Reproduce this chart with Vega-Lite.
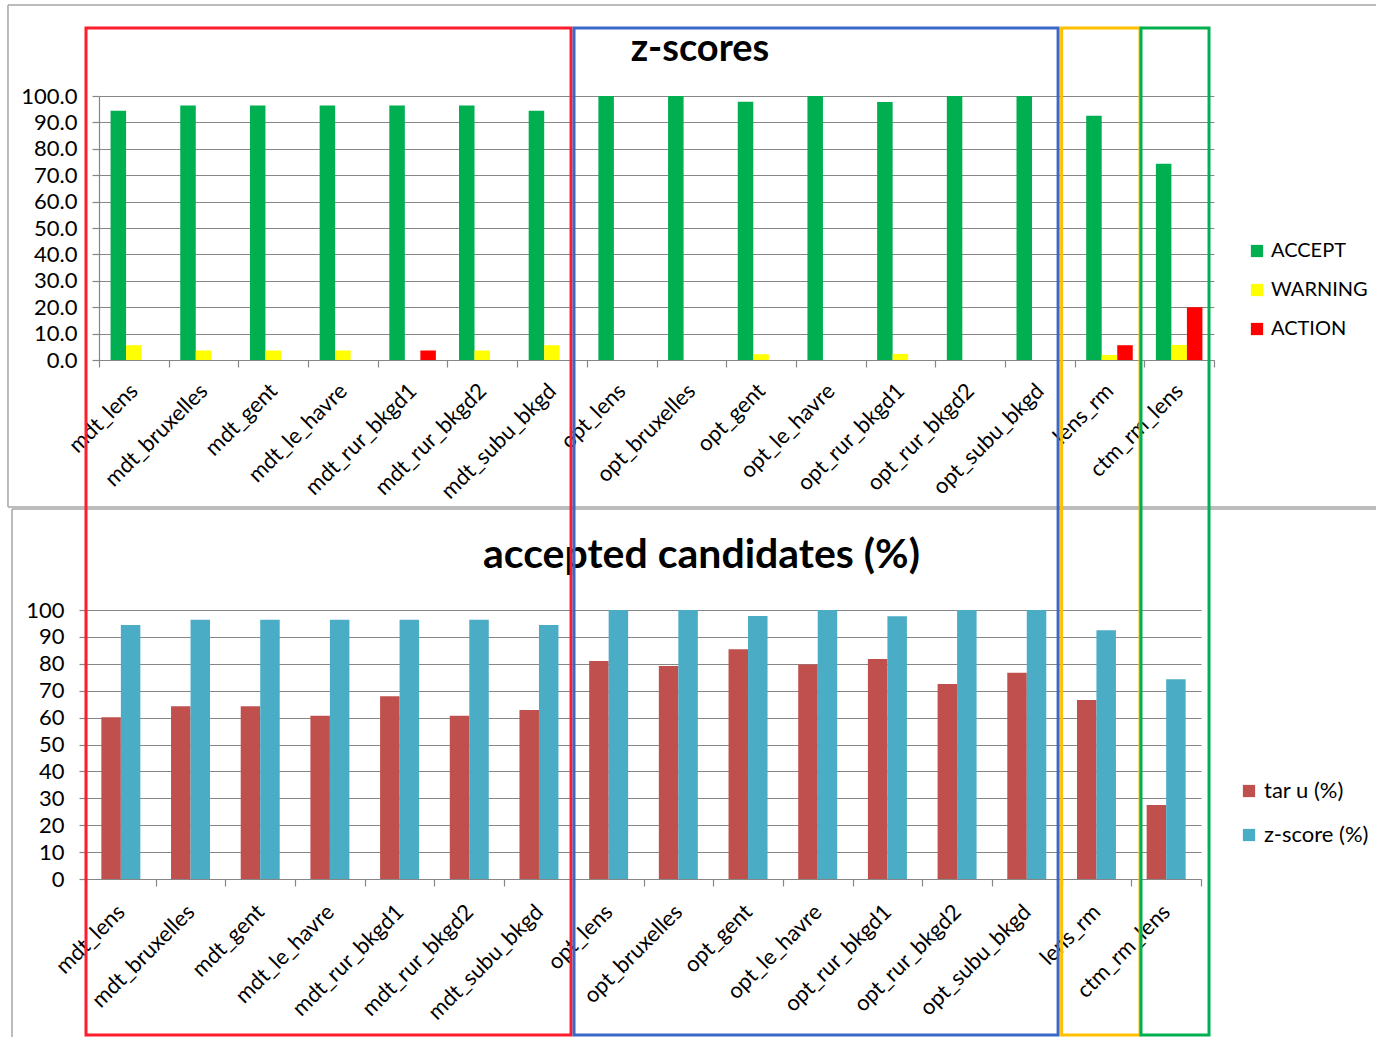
{
  "$schema": "https://vega.github.io/schema/vega-lite/v6.json",
  "background": "white",
  "padding": {"left": 7, "top": 4, "right": 0, "bottom": 0},
  "config": {
    "font": "Lato",
    "view": {"stroke": null},
    "axis": {
      "labelFont": "Lato",
      "labelFontSize": 22,
      "labelColor": "#000000",
      "labelOverlap": false,
      "domainColor": "#868686",
      "domainWidth": 1.2,
      "tickColor": "#868686",
      "tickWidth": 1.2,
      "tickSize": 7,
      "gridColor": "#868686",
      "gridWidth": 1.2,
      "gridOpacity": 1
    },
    "legend": {
      "labelFont": "Lato",
      "labelFontSize": 20,
      "labelColor": "#000000",
      "symbolType": "square",
      "symbolSize": 150,
      "symbolStrokeWidth": 0,
      "labelOffset": 4,
      "padding": 0
    }
  },
  "bounds": "flush",
  "spacing": 250,
  "resolve": {
    "scale": {"x": "independent", "y": "independent", "xOffset": "independent", "color": "independent"},
    "axis": {"x": "independent", "y": "independent"},
    "legend": {"color": "independent"}
  },
  "vconcat": [
    {
      "width": 1128,
      "height": 264,
      "layer": [
        {
          "data": {
            "values": [
              {"site": "mdt_lens", "status": "ACCEPT", "pct": 94.4},
              {"site": "mdt_lens", "status": "WARNING", "pct": 5.6},
              {"site": "mdt_bruxelles", "status": "ACCEPT", "pct": 96.4},
              {"site": "mdt_bruxelles", "status": "WARNING", "pct": 3.6},
              {"site": "mdt_gent", "status": "ACCEPT", "pct": 96.4},
              {"site": "mdt_gent", "status": "WARNING", "pct": 3.6},
              {"site": "mdt_le_havre", "status": "ACCEPT", "pct": 96.4},
              {"site": "mdt_le_havre", "status": "WARNING", "pct": 3.6},
              {"site": "mdt_rur_bkgd1", "status": "ACCEPT", "pct": 96.4},
              {"site": "mdt_rur_bkgd1", "status": "ACTION", "pct": 3.6},
              {"site": "mdt_rur_bkgd2", "status": "ACCEPT", "pct": 96.4},
              {"site": "mdt_rur_bkgd2", "status": "WARNING", "pct": 3.6},
              {"site": "mdt_subu_bkgd", "status": "ACCEPT", "pct": 94.4},
              {"site": "mdt_subu_bkgd", "status": "WARNING", "pct": 5.6},
              {"site": "opt_lens", "status": "ACCEPT", "pct": 100},
              {"site": "opt_bruxelles", "status": "ACCEPT", "pct": 100},
              {"site": "opt_gent", "status": "ACCEPT", "pct": 97.8},
              {"site": "opt_gent", "status": "WARNING", "pct": 2.2},
              {"site": "opt_le_havre", "status": "ACCEPT", "pct": 100},
              {"site": "opt_rur_bkgd1", "status": "ACCEPT", "pct": 97.7},
              {"site": "opt_rur_bkgd1", "status": "WARNING", "pct": 2.3},
              {"site": "opt_rur_bkgd2", "status": "ACCEPT", "pct": 100},
              {"site": "opt_subu_bkgd", "status": "ACCEPT", "pct": 100},
              {"site": "lens_rm", "status": "ACCEPT", "pct": 92.5},
              {"site": "lens_rm", "status": "WARNING", "pct": 1.9},
              {"site": "lens_rm", "status": "ACTION", "pct": 5.6},
              {"site": "ctm_rm_lens", "status": "ACCEPT", "pct": 74.3},
              {"site": "ctm_rm_lens", "status": "WARNING", "pct": 5.7},
              {"site": "ctm_rm_lens", "status": "ACTION", "pct": 20.0}
            ]
          },
          "mark": {"type": "bar"},
          "encoding": {
            "x": {
              "field": "site",
              "type": "nominal",
              "scale": {
                "domain": ["mdt_lens", "mdt_bruxelles", "mdt_gent", "mdt_le_havre", "mdt_rur_bkgd1", "mdt_rur_bkgd2", "mdt_subu_bkgd", "opt_lens", "opt_bruxelles", "opt_gent", "opt_le_havre", "opt_rur_bkgd1", "opt_rur_bkgd2", "opt_subu_bkgd", "lens_rm", "ctm_rm_lens"],
                "range": [13, 1128],
                "paddingInner": 0,
                "paddingOuter": 0
              },
              "axis": {
                "title": null,
                "labelAngle": -45,
                "labelAlign": "right",
                "labelBaseline": "middle",
                "labelPadding": 20,
                "labelLimit": 400,
                "tickBand": "extent",
                "grid": false
              }
            },
            "xOffset": {
              "field": "status",
              "type": "nominal",
              "scale": {"domain": ["ACCEPT", "WARNING", "ACTION"], "paddingInner": 0, "paddingOuter": 0.745}
            },
            "y": {
              "field": "pct",
              "type": "quantitative",
              "scale": {"domain": [0, 100], "nice": false},
              "axis": {"title": null, "values": [0, 10, 20, 30, 40, 50, 60, 70, 80, 90, 100], "tickCount": 12, "format": ".1f", "offset": -13, "labelPadding": 15, "grid": true}
            },
            "color": {
              "field": "status",
              "type": "nominal",
              "scale": {"domain": ["ACCEPT", "WARNING", "ACTION"], "range": ["#00B050", "#FFFF00", "#FF0000"]},
              "legend": {"title": null, "orient": "none", "legendX": 1161, "legendY": 145, "rowPadding": 19}
            }
          }
        },
        {
          "data": {"values": [{}]},
          "mark": {"type": "text", "text": "z-scores", "fontSize": 38, "fontWeight": "bold", "color": "#000000", "align": "center", "baseline": "alphabetic"},
          "encoding": {
            "x": {"datum": "opt_bruxelles", "type": "nominal", "bandPosition": 0.624},
            "y": {"datum": 113.3, "type": "quantitative", "axis": {"title": null, "values": [0, 10, 20, 30, 40, 50, 60, 70, 80, 90, 100], "tickCount": 12, "format": ".1f", "offset": -13, "labelPadding": 15, "grid": true}}
          }
        },
        {
          "data": {"values": [{}]},
          "mark": {"type": "rule", "stroke": "#A6A6A6", "strokeWidth": 1.5, "clip": false},
          "encoding": {
            "x": {"datum": "mdt_lens", "type": "nominal", "bandPosition": -1.306},
            "x2": {"datum": "ctm_rm_lens", "bandPosition": 3.325},
            "y": {"datum": 134.47, "type": "quantitative", "axis": {"title": null, "values": [0, 10, 20, 30, 40, 50, 60, 70, 80, 90, 100], "tickCount": 12, "format": ".1f", "offset": -13, "labelPadding": 15, "grid": true}}
          }
        },
        {
          "data": {"values": [{}]},
          "mark": {"type": "rule", "stroke": "#A6A6A6", "strokeWidth": 1.5, "clip": false},
          "encoding": {
            "x": {"datum": "mdt_lens", "type": "nominal", "bandPosition": -1.306},
            "y": {"datum": 134.47, "type": "quantitative", "axis": {"title": null, "values": [0, 10, 20, 30, 40, 50, 60, 70, 80, 90, 100], "tickCount": 12, "format": ".1f", "offset": -13, "labelPadding": 15, "grid": true}},
            "y2": {"datum": -55.68}
          }
        },
        {
          "data": {"values": [{}]},
          "mark": {"type": "rule", "stroke": "#A6A6A6", "strokeWidth": 1.5, "clip": false},
          "encoding": {
            "x": {"datum": "mdt_lens", "type": "nominal", "bandPosition": -1.306},
            "x2": {"datum": "ctm_rm_lens", "bandPosition": 3.325},
            "y": {"datum": -55.68, "type": "quantitative", "axis": {"title": null, "values": [0, 10, 20, 30, 40, 50, 60, 70, 80, 90, 100], "tickCount": 12, "format": ".1f", "offset": -13, "labelPadding": 15, "grid": true}}
          }
        }
      ]
    },
    {
      "width": 1115,
      "height": 269,
      "layer": [
        {
          "data": {
            "values": [
              {"site": "mdt_lens", "series": "tar u (%)", "pct": 60.1},
              {"site": "mdt_lens", "series": "z-score (%)", "pct": 94.4},
              {"site": "mdt_bruxelles", "series": "tar u (%)", "pct": 64.2},
              {"site": "mdt_bruxelles", "series": "z-score (%)", "pct": 96.4},
              {"site": "mdt_gent", "series": "tar u (%)", "pct": 64.2},
              {"site": "mdt_gent", "series": "z-score (%)", "pct": 96.4},
              {"site": "mdt_le_havre", "series": "tar u (%)", "pct": 60.7},
              {"site": "mdt_le_havre", "series": "z-score (%)", "pct": 96.4},
              {"site": "mdt_rur_bkgd1", "series": "tar u (%)", "pct": 67.9},
              {"site": "mdt_rur_bkgd1", "series": "z-score (%)", "pct": 96.4},
              {"site": "mdt_rur_bkgd2", "series": "tar u (%)", "pct": 60.7},
              {"site": "mdt_rur_bkgd2", "series": "z-score (%)", "pct": 96.4},
              {"site": "mdt_subu_bkgd", "series": "tar u (%)", "pct": 62.8},
              {"site": "mdt_subu_bkgd", "series": "z-score (%)", "pct": 94.4},
              {"site": "opt_lens", "series": "tar u (%)", "pct": 81.0},
              {"site": "opt_lens", "series": "z-score (%)", "pct": 100},
              {"site": "opt_bruxelles", "series": "tar u (%)", "pct": 79.2},
              {"site": "opt_bruxelles", "series": "z-score (%)", "pct": 100},
              {"site": "opt_gent", "series": "tar u (%)", "pct": 85.4},
              {"site": "opt_gent", "series": "z-score (%)", "pct": 97.8},
              {"site": "opt_le_havre", "series": "tar u (%)", "pct": 79.7},
              {"site": "opt_le_havre", "series": "z-score (%)", "pct": 100},
              {"site": "opt_rur_bkgd1", "series": "tar u (%)", "pct": 81.8},
              {"site": "opt_rur_bkgd1", "series": "z-score (%)", "pct": 97.7},
              {"site": "opt_rur_bkgd2", "series": "tar u (%)", "pct": 72.5},
              {"site": "opt_rur_bkgd2", "series": "z-score (%)", "pct": 100},
              {"site": "opt_subu_bkgd", "series": "tar u (%)", "pct": 76.7},
              {"site": "opt_subu_bkgd", "series": "z-score (%)", "pct": 100},
              {"site": "lens_rm", "series": "tar u (%)", "pct": 66.5},
              {"site": "lens_rm", "series": "z-score (%)", "pct": 92.5},
              {"site": "ctm_rm_lens", "series": "tar u (%)", "pct": 27.5},
              {"site": "ctm_rm_lens", "series": "z-score (%)", "pct": 74.3}
            ]
          },
          "mark": {"type": "bar"},
          "encoding": {
            "x": {
              "field": "site",
              "type": "nominal",
              "scale": {
                "domain": ["mdt_lens", "mdt_bruxelles", "mdt_gent", "mdt_le_havre", "mdt_rur_bkgd1", "mdt_rur_bkgd2", "mdt_subu_bkgd", "opt_lens", "opt_bruxelles", "opt_gent", "opt_le_havre", "opt_rur_bkgd1", "opt_rur_bkgd2", "opt_subu_bkgd", "lens_rm", "ctm_rm_lens"],
                "paddingInner": 0,
                "paddingOuter": 0
              },
              "axis": {
                "title": null,
                "labelAngle": -45,
                "labelAlign": "right",
                "labelBaseline": "middle",
                "labelPadding": 22,
                "labelLimit": 400,
                "tickBand": "extent",
                "grid": false
              }
            },
            "xOffset": {
              "field": "series",
              "type": "nominal",
              "scale": {"domain": ["tar u (%)", "z-score (%)"], "paddingInner": 0, "paddingOuter": 0.787}
            },
            "y": {
              "field": "pct",
              "type": "quantitative",
              "scale": {"domain": [0, 100], "nice": false},
              "axis": {"title": null, "values": [0, 10, 20, 30, 40, 50, 60, 70, 80, 90, 100], "tickCount": 12, "format": "d", "labelPadding": 15, "grid": true}
            },
            "color": {
              "field": "series",
              "type": "nominal",
              "scale": {"domain": ["tar u (%)", "z-score (%)"], "range": ["#C0504D", "#4BACC6"]},
              "legend": {"title": null, "orient": "none", "legendX": 1152, "legendY": 170, "rowPadding": 22, "labelFontSize": 22}
            }
          }
        },
        {
          "data": {"values": [{}]},
          "mark": {"type": "text", "text": "accepted candidates (%)", "fontSize": 41, "fontWeight": "bold", "color": "#000000", "align": "center", "baseline": "alphabetic"},
          "encoding": {
            "x": {"datum": "opt_bruxelles", "type": "nominal", "bandPosition": 0.832},
            "y": {"datum": 115.6, "type": "quantitative", "axis": {"title": null, "values": [0, 10, 20, 30, 40, 50, 60, 70, 80, 90, 100], "tickCount": 12, "format": "d", "labelPadding": 15, "grid": true}}
          }
        },
        {
          "data": {"values": [{}]},
          "mark": {"type": "rule", "stroke": "#A6A6A6", "strokeWidth": 1.5, "clip": false},
          "encoding": {
            "x": {"datum": "mdt_lens", "type": "nominal", "bandPosition": -1.062},
            "x2": {"datum": "ctm_rm_lens", "bandPosition": 3.511},
            "y": {"datum": 137.55, "type": "quantitative", "axis": {"title": null, "values": [0, 10, 20, 30, 40, 50, 60, 70, 80, 90, 100], "tickCount": 12, "format": "d", "labelPadding": 15, "grid": true}}
          }
        },
        {
          "data": {"values": [{}]},
          "mark": {"type": "rule", "stroke": "#A6A6A6", "strokeWidth": 1.5, "clip": false},
          "encoding": {
            "x": {"datum": "mdt_lens", "type": "nominal", "bandPosition": -1.062},
            "y": {"datum": 137.55, "type": "quantitative", "axis": {"title": null, "values": [0, 10, 20, 30, 40, 50, 60, 70, 80, 90, 100], "tickCount": 12, "format": "d", "labelPadding": 15, "grid": true}},
            "y2": {"datum": -58.74}
          }
        },
        {
          "data": {"values": [{}]},
          "mark": {"type": "rect", "filled": false, "stroke": "#FF1C2C", "strokeWidth": 3, "clip": false},
          "encoding": {
            "x": {"datum": "mdt_lens", "type": "nominal", "bandPosition": 0},
            "x2": {"datum": "mdt_subu_bkgd", "bandPosition": 0.96},
            "y": {"datum": 316.36, "type": "quantitative", "axis": {"title": null, "values": [0, 10, 20, 30, 40, 50, 60, 70, 80, 90, 100], "tickCount": 12, "format": "d", "labelPadding": 15, "grid": true}},
            "y2": {"datum": -57.99}
          }
        },
        {
          "data": {"values": [{}]},
          "mark": {"type": "rect", "filled": false, "stroke": "#3A68C8", "strokeWidth": 3, "clip": false},
          "encoding": {
            "x": {"datum": "opt_lens", "type": "nominal", "bandPosition": 0.003},
            "x2": {"datum": "opt_subu_bkgd", "bandPosition": 0.949},
            "y": {"datum": 316.36, "type": "quantitative", "axis": {"title": null, "values": [0, 10, 20, 30, 40, 50, 60, 70, 80, 90, 100], "tickCount": 12, "format": "d", "labelPadding": 15, "grid": true}},
            "y2": {"datum": -57.99}
          }
        },
        {
          "data": {"values": [{}]},
          "mark": {"type": "rect", "filled": false, "stroke": "#FFC000", "strokeWidth": 3, "clip": false},
          "encoding": {
            "x": {"datum": "lens_rm", "type": "nominal", "bandPosition": 0},
            "x2": {"datum": "lens_rm", "bandPosition": 1.125},
            "y": {"datum": 316.36, "type": "quantitative", "axis": {"title": null, "values": [0, 10, 20, 30, 40, 50, 60, 70, 80, 90, 100], "tickCount": 12, "format": "d", "labelPadding": 15, "grid": true}},
            "y2": {"datum": -57.99}
          }
        },
        {
          "data": {"values": [{}]},
          "mark": {"type": "rect", "filled": false, "stroke": "#00B050", "strokeWidth": 3, "clip": false},
          "encoding": {
            "x": {"datum": "ctm_rm_lens", "type": "nominal", "bandPosition": 0.139},
            "x2": {"datum": "ctm_rm_lens", "bandPosition": 1.115},
            "y": {"datum": 316.36, "type": "quantitative", "axis": {"title": null, "values": [0, 10, 20, 30, 40, 50, 60, 70, 80, 90, 100], "tickCount": 12, "format": "d", "labelPadding": 15, "grid": true}},
            "y2": {"datum": -57.99}
          }
        }
      ]
    }
  ]
}
